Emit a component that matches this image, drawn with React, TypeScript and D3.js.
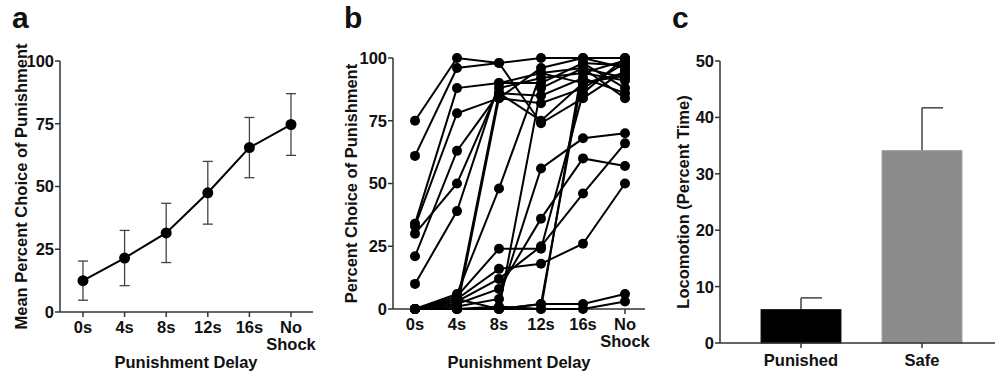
import React from 'react';
import * as d3 from 'd3';

// panel a: mean choice of punishment by delay
const delays = ['0s', '4s', '8s', '12s', '16s', 'No Shock'];
const meanChoice = [12.5, 21.5, 31.5, 47.5, 65.5, 74.7];
const semChoice = [7.8, 11, 11.8, 12.5, 12, 12.3];
const choiceTicks = [0, 25, 50, 75, 100];

// panel b: individual subjects, one array per subject (0s .. No Shock)
const subjects = [
  [75, 100, 98, 100, 100, 100],
  [61, 96, 98, 74, 84, 95],
  [34, 88, 90, 94, 96, 92],
  [33, 78, 84, 82, 88, 98],
  [30, 50, 88, 92, 94, 91],
  [21, 63, 86, 85, 92, 86],
  [10, 39, 90, 90, 98, 97],
  [0, 6, 48, 94, 90, 93],
  [0, 5, 24, 24, 86, 100],
  [0, 4, 16, 18, 26, 50],
  [0, 3, 12, 25, 46, 66],
  [0, 2, 8, 36, 60, 57],
  [0, 1, 4, 56, 68, 70],
  [0, 0, 0, 88, 96, 84],
  [0, 0, 0, 2, 2, 6],
  [0, 0, 1, 0, 0, 3],
  [0, 0, 0, 0, 98, 88],
  [0, 4, 0, 2, 94, 99],
  [0, 2, 86, 75, 90, 94],
  [0, 0, 84, 96, 100, 96],
];

// panel c: locomotion
const groups = ['Punished', 'Safe'];
const locomotion = [5.9, 34.1];
const locomotionSem = [2.1, 7.6];
const locoTicks = [0, 10, 20, 30, 40, 50];

const font = 'Liberation Sans, Arial, Helvetica, sans-serif';
const axisColor = '#333';
const fs = 16.5;

const XLabels = ({ x, y0 }: { x: d3.ScalePoint<string>; y0: number }) => (
  <g>
    {delays.map(d => {
      const parts = d.split(' ');
      return (
        <text key={d} x={x(d)} y={y0 + 21} textAnchor="middle" fontSize={fs} fontWeight="bold">
          {parts.map((p, i) => (
            <tspan key={p} x={x(d)} dy={i === 0 ? 0 : 17}>{p}</tspan>
          ))}
        </text>
      );
    })}
  </g>
);

const YAxis = ({ y, x0, ticks }: { y: d3.ScaleLinear<number, number>; x0: number; ticks: number[] }) => (
  <g>
    <line x1={x0} x2={x0} y1={y(ticks[ticks.length - 1])} y2={y(0)} stroke={axisColor} strokeWidth={1.5} />
    {ticks.map(t => (
      <g key={t}>
        <line x1={x0 - 5} x2={x0} y1={y(t)} y2={y(t)} stroke={axisColor} strokeWidth={1.5} />
        <text x={x0 - 6} y={y(t)} dy="0.36em" textAnchor="end" fontSize={fs} fontWeight="bold">{t}</text>
      </g>
    ))}
  </g>
);

const App = () => {
  // panel a scales
  const xa = d3.scalePoint<string>().domain(delays).range([83, 291]);
  const ya = d3.scaleLinear().domain([0, 100]).range([312, 61]);
  const lineA = d3.line<number>().x((_, i) => xa(delays[i])!).y(v => ya(v));

  // panel b scales
  const xb = d3.scalePoint<string>().domain(delays).range([415, 625]);
  const yb = d3.scaleLinear().domain([0, 100]).range([309, 58]);
  const lineB = d3.line<number>().x((_, i) => xb(delays[i])!).y(v => yb(v));

  // panel c scales
  const xc = d3.scaleBand<string>().domain(groups).range([740.5, 982.5]).paddingInner(0.34).paddingOuter(0.17);
  const yc = d3.scaleLinear().domain([0, 50]).range([343, 61]);

  return (
    <svg width={995} height={378} style={{ position: 'absolute', left: 0, top: 0, background: '#fff' }}
      fontFamily={font} fill="#111">
      {/* ---------- panel a ---------- */}
      <text x={12} y={28} fontSize={30} fontWeight="bold">a</text>
      <YAxis y={ya} x0={60} ticks={choiceTicks} />
      <line x1={60} x2={313} y1={ya(0)} y2={ya(0)} stroke={axisColor} strokeWidth={1.5} />
      {delays.map(d => (
        <line key={d} x1={xa(d)} x2={xa(d)} y1={ya(0)} y2={ya(0) + 5} stroke={axisColor} strokeWidth={1.5} />
      ))}
      <XLabels x={xa} y0={ya(0)} />
      <text x={186} y={368} textAnchor="middle" fontSize={fs} fontWeight="bold">Punishment Delay</text>
      <text transform={`translate(27,${(ya(0) + ya(100)) / 2}) rotate(-90)`} textAnchor="middle"
        fontSize={fs} fontWeight="bold">Mean Percent Choice of Punishment</text>
      {meanChoice.map((m, i) => {
        const cx = xa(delays[i])!;
        return (
          <g key={i} stroke="#444" strokeWidth={1.3}>
            <line x1={cx} x2={cx} y1={ya(m - semChoice[i])} y2={ya(m + semChoice[i])} />
            <line x1={cx - 5} x2={cx + 5} y1={ya(m - semChoice[i])} y2={ya(m - semChoice[i])} />
            <line x1={cx - 5} x2={cx + 5} y1={ya(m + semChoice[i])} y2={ya(m + semChoice[i])} />
          </g>
        );
      })}
      <path d={lineA(meanChoice)!} fill="none" stroke="#000" strokeWidth={2} />
      {meanChoice.map((m, i) => (
        <circle key={i} cx={xa(delays[i])} cy={ya(m)} r={5.5} fill="#000" />
      ))}

      {/* ---------- panel b ---------- */}
      <text x={344} y={28} fontSize={30} fontWeight="bold">b</text>
      <YAxis y={yb} x0={393} ticks={choiceTicks} />
      <line x1={393} x2={645} y1={yb(0)} y2={yb(0)} stroke={axisColor} strokeWidth={1.5} />
      {delays.map(d => (
        <line key={d} x1={xb(d)} x2={xb(d)} y1={yb(0)} y2={yb(0) + 5} stroke={axisColor} strokeWidth={1.5} />
      ))}
      <XLabels x={xb} y0={yb(0)} />
      <text x={519} y={368} textAnchor="middle" fontSize={fs} fontWeight="bold">Punishment Delay</text>
      <text transform={`translate(357,${(yb(0) + yb(100)) / 2}) rotate(-90)`} textAnchor="middle"
        fontSize={fs} fontWeight="bold">Percent Choice of Punishment</text>
      {subjects.map((s, k) => (
        <path key={k} d={lineB(s)!} fill="none" stroke="#000" strokeWidth={2} />
      ))}
      {subjects.map((s, k) => (
        <g key={k}>
          {s.map((v, i) => (
            <circle key={i} cx={xb(delays[i])} cy={yb(v)} r={5} fill="#000" />
          ))}
        </g>
      ))}

      {/* ---------- panel c ---------- */}
      <text x={672} y={28} fontSize={30} fontWeight="bold">c</text>
      {groups.map((g, i) => {
        const x0 = xc(g)!;
        const cx = x0 + xc.bandwidth() / 2;
        const top = yc(locomotion[i] + locomotionSem[i]);
        return (
          <g key={g}>
            <line x1={cx} x2={cx} y1={yc(locomotion[i])} y2={top} stroke="#444" strokeWidth={1.5} />
            <line x1={cx} x2={cx + 21} y1={top} y2={top} stroke="#444" strokeWidth={1.5} />
            <rect x={x0} y={yc(locomotion[i])} width={xc.bandwidth()} height={yc(0) - yc(locomotion[i])}
              fill={i === 0 ? '#000' : '#8c8c8c'} stroke={i === 0 ? '#000' : '#9a9a9a'} strokeWidth={1} />
          </g>
        );
      })}
      <YAxis y={yc} x0={720} ticks={locoTicks} />
      <line x1={720} x2={995} y1={yc(0)} y2={yc(0)} stroke={axisColor} strokeWidth={1.5} />
      {groups.map(g => {
        const cx = xc(g)! + xc.bandwidth() / 2;
        return (
          <g key={g}>
            <line x1={cx} x2={cx} y1={yc(0)} y2={yc(0) + 5} stroke={axisColor} strokeWidth={1.5} />
            <text x={cx} y={366} textAnchor="middle" fontSize={fs} fontWeight="bold">{g}</text>
          </g>
        );
      })}
      <text transform={`translate(689,${(yc(0) + yc(50)) / 2}) rotate(-90)`} textAnchor="middle"
        fontSize={fs} fontWeight="bold">Locomotion (Percent Time)</text>
    </svg>
  );
};

export default App;
